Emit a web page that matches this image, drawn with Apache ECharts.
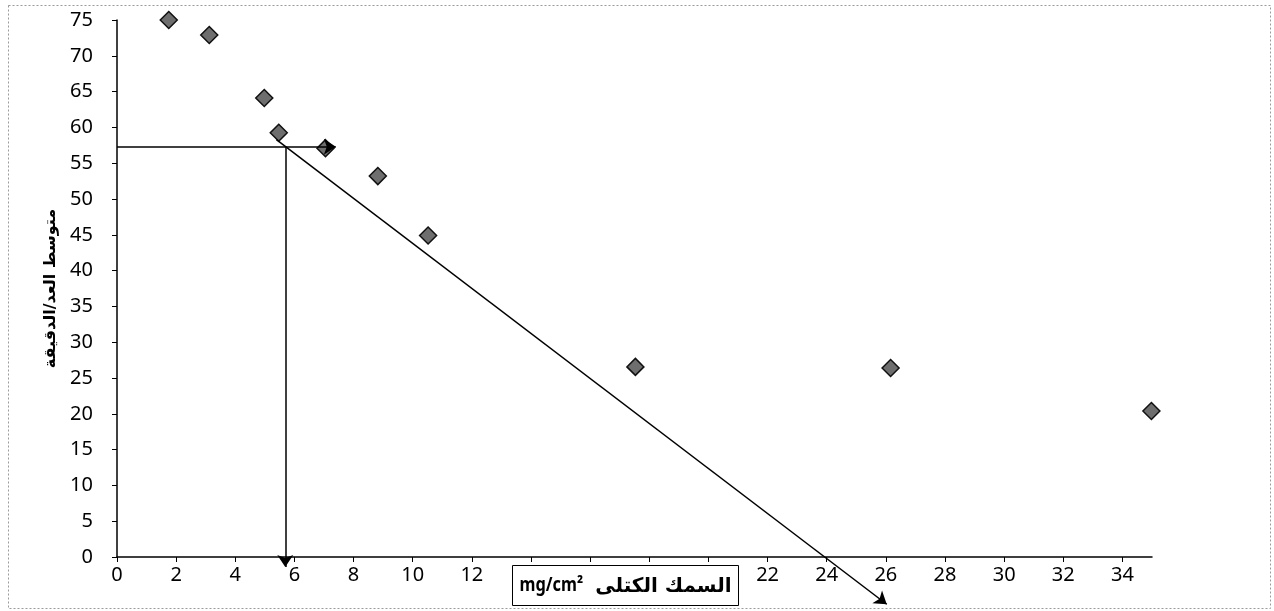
<!DOCTYPE html>
<html>
<head>
<meta charset="utf-8">
<script src="https://cdn.jsdelivr.net/npm/echarts@6/dist/echarts.min.js"></script>
<style>
html,body{margin:0;padding:0;background:#fff;}
#chart{width:1274px;height:611px;}
</style>
</head>
<body>
<div id="chart"></div>
<script>
// ---- data ----
const thickness = [1.75, 3.12, 4.98, 5.47, 7.05, 8.82, 10.52, 17.53, 26.16, 34.98]; // mg/cm2
const countRate = [75.0, 72.9, 64.1, 59.25, 57.1, 53.2, 44.9, 26.55, 26.4, 20.4];  // counts/min
const guideHorizontal = [[0, 57.3], [7.4, 57.3]];
const guideVertical   = [[5.69, 57.3], [5.69, -1.4]];
const guideDiagonal   = [[5.39, 58.3], [26.03, -6.6]];
const xTitleUnit = 'mg/cm²';
const xTitleArabic = 'السمك الكتلى';
const yTitle = 'متوسط العد/الدقيقة';

const FONT = '"Noto Sans", "Open Sans", sans-serif';
const AFONT = '"DejaVu Sans", "Noto Sans", sans-serif';
const points = thickness.map((x, i) => [x, countRate[i]]);

const gLeft = 117, gTop = 20, gWidth = 1035, gHeight = 537;
const yMin2 = -7.5;
const gHeight2 = gHeight * (75 - yMin2) / 75;

function seg(p) {
  return [{coord: p[0], symbol: 'none'}, {coord: p[1]}];
}

const chart = echarts.init(document.getElementById('chart'), null, {renderer: 'canvas'});
chart.setOption({
  animation: false,
  backgroundColor: '#fff',
  grid: [
    {left: gLeft, top: gTop, width: gWidth, height: gHeight},
    {left: gLeft, top: gTop, width: gWidth, height: gHeight2}
  ],
  xAxis: [
    {
      gridIndex: 0, type: 'value', min: 0, max: 35, interval: 2,
      splitLine: {show: false},
      axisLine: {show: true, onZero: false, lineStyle: {color: '#000', width: 1.5}},
      axisTick: {show: true, length: 5, lineStyle: {color: '#000'}},
      axisLabel: {color: '#000', fontSize: 20, fontFamily: FONT, margin: 8, showMaxLabel: false}
    },
    {gridIndex: 1, type: 'value', min: 0, max: 35, show: false}
  ],
  yAxis: [
    {
      gridIndex: 0, type: 'value', min: 0, max: 75, interval: 5,
      splitLine: {show: false},
      axisLine: {show: true, lineStyle: {color: '#000', width: 1.5}},
      axisTick: {show: true, length: 5, lineStyle: {color: '#000'}},
      axisLabel: {color: '#000', fontSize: 20, fontFamily: FONT, margin: 24},
      name: yTitle, nameLocation: 'middle', nameRotate: 90, nameGap: 56,
      nameTextStyle: {color: '#000', fontSize: 16, fontWeight: 'bold', fontFamily: AFONT}
    },
    {gridIndex: 1, type: 'value', min: yMin2, max: 75, show: false}
  ],
  series: [
    {
      type: 'scatter', xAxisIndex: 0, yAxisIndex: 0,
      data: points, symbol: 'diamond', symbolSize: 17,
      itemStyle: {color: '#6e6e6e', borderColor: '#111', borderWidth: 1.5, opacity: 1},
      emphasis: {disabled: true}, z: 3
    },
    {
      type: 'scatter', xAxisIndex: 1, yAxisIndex: 1, data: [], clip: false, silent: true,
      markLine: {
        silent: true, animation: false,
        symbol: ['none', 'arrow'], symbolSize: 12,
        label: {show: false},
        emphasis: {disabled: true},
        lineStyle: {color: '#000', width: 1.5, type: 'solid'},
        data: [seg(guideHorizontal), seg(guideVertical), seg(guideDiagonal)]
      },
      z: 4
    }
  ],
  graphic: [
    {
      type: 'rect', left: 6, top: 3, z: -1, silent: true,
      shape: {width: 1262, height: 603},
      style: {fill: 'none', stroke: '#9a9a9a', lineWidth: 1, lineDash: [2, 2]}
    },
    {
      type: 'group', left: 512, top: 565, zlevel: 2, z: 100,
      children: [
        {type: 'rect', zlevel: 2, z: 100, shape: {x: 0, y: 0, width: 226, height: 40},
         style: {fill: '#fff', stroke: '#000', lineWidth: 1}},
        {type: 'text', zlevel: 2, z: 101, x: 7, y: 20, scaleX: 0.86,
         style: {text: xTitleUnit, fill: '#000', font: 'bold 19px ' + FONT, align: 'left', verticalAlign: 'middle'}},
        {type: 'text', zlevel: 2, z: 101, x: 219, y: 21,
         style: {text: xTitleArabic, fill: '#000', font: 'bold 20px ' + AFONT, align: 'right', verticalAlign: 'middle'}}
      ]
    }
  ]
});
</script>
</body>
</html>
